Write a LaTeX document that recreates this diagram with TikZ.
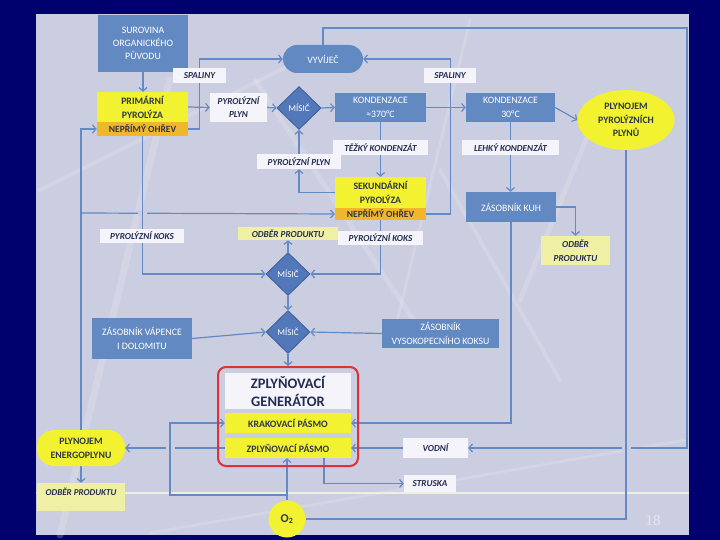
\documentclass[tikz,border=0pt]{standalone}
\usepackage{fontspec}
\setmainfont{Carlito}
\newfontfamily\numfont{Liberation Serif}
\usetikzlibrary{arrows.meta,shapes.geometric}
\definecolor{navy}{RGB}{0,0,110}
\definecolor{panel}{RGB}{203,205,224}
\definecolor{boxblue}{RGB}{99,137,195}
\definecolor{diam}{RGB}{82,120,185}
\definecolor{diamdark}{RGB}{60,92,155}
\definecolor{linec}{RGB}{100,138,198}
\definecolor{yel}{RGB}{242,242,48}
\definecolor{orng}{RGB}{240,182,44}
\definecolor{lyel}{RGB}{240,240,165}
\definecolor{lblw}{RGB}{244,244,250}
\definecolor{dtext}{RGB}{35,45,80}
\definecolor{ytext}{RGB}{45,55,70}
\definecolor{redf}{RGB}{220,50,60}
\definecolor{pagec}{RGB}{232,232,245}
\definecolor{streak}{RGB}{240,242,250}
\pgfdeclarelayer{back}
\pgfdeclarelayer{lines}
\pgfsetlayers{back,lines,main}
\tikzset{
  conn/.style={draw=linec, line width=1.2pt, -{Straight Barb[length=3.5pt,width=8pt]}},
  plainc/.style={draw=linec, line width=1.2pt},
  bbox/.style={fill=boxblue, text=white, align=center, inner sep=0pt,
    font=\fontsize{9.8}{13.3}\selectfont},
  ybox/.style={fill=yel, text=ytext, align=center, inner sep=0pt,
    font=\bfseries\fontsize{9.8}{14}\selectfont},
  obox/.style={fill=orng, text=ytext, align=center, inner sep=0pt,
    font=\bfseries\fontsize{9.5}{10}\selectfont},
  lbl/.style={fill=lblw, text=dtext, align=center, inner sep=0pt,
    font=\bfseries\itshape\fontsize{9.2}{13}\selectfont},
  lyb/.style={fill=lyel, text=dtext, align=center, inner sep=0pt,
    font=\bfseries\itshape\fontsize{9.2}{14}\selectfont},
  mix/.style={diamond, fill=diam, draw=diamdark, line width=0.8pt, text=white,
    minimum width=44pt, minimum height=43pt, inner sep=0pt,
    font=\fontsize{9}{10}\selectfont},
  gapfill/.style={fill=panel},
}
\begin{document}
\begin{tikzpicture}[x=1pt,y=-1pt]
\useasboundingbox (0,0) rectangle (720,540);
\begin{pgfonlayer}{back}
  \fill[navy] (0,0) rectangle (720,540);
  \fill[panel] (36,14) rectangle (689,535);
  \begin{scope}[draw=streak, opacity=0.22, line cap=round]
    \draw[line width=7pt] (60,535) -- (170,80);
    \draw[line width=4pt] (40,190) -- (300,60);
    \draw[line width=5pt] (255,80) -- (420,330);
    \draw[line width=4pt] (440,170) -- (560,380);
    \draw[line width=5pt] (590,130) -- (520,300);
    \draw[line width=3pt] (470,20) -- (395,330);
    \draw[line width=3pt] (150,533) -- (685,440);
  \end{scope}
  \draw[draw={rgb,255:red,236;green,240;blue,222}, line width=2pt] (36,493) -- (689,493);
\end{pgfonlayer}

% ---------- nodes ----------
\node[bbox, minimum width=90pt, minimum height=57pt] (sur) at (143,43.5) {SUROVINA\\ORGANICKÉHO\\PŮVODU};
\node[bbox, minimum width=80pt, minimum height=28pt, rounded corners=14pt] (vyv) at (323,59) {VYVÍJEČ};
\node[lbl, minimum width=53pt, minimum height=15pt] (spalL) at (199.5,75.5) {SPALINY};
\node[lbl, minimum width=52pt, minimum height=15pt] (spalR) at (450,75.5) {SPALINY};

\node[ybox, minimum width=91pt, minimum height=30pt] (prim) at (142.5,107) {PRIMÁRNÍ\\PYROLÝZA};
\node[obox, minimum width=91pt, minimum height=14pt] (ohr1) at (142.5,129) {NEPŘÍMÝ OHŘEV};
\node[lbl, minimum width=57pt, minimum height=29pt] (ppl1) at (238.5,107.5) {PYROLÝZNÍ\\PLYN};
\node[mix] (mis1) at (299,108) {MÍSIČ};
\node[bbox, minimum width=91pt, minimum height=29pt] (kon1) at (380.5,107.5) {KONDENZACE\\≈370°C};
\node[bbox, minimum width=89pt, minimum height=29pt] (kon2) at (510.5,107.5) {KONDENZACE\\30°C};
\node[ellipse, fill=yel, text=ytext, align=center, inner sep=0pt, minimum width=97pt, minimum height=60pt,
  font=\bfseries\fontsize{9.8}{13.5}\selectfont] (plp) at (626,120) {PLYNOJEM\\PYROLÝZNÍCH\\PLYNŮ};
\node[lbl, minimum width=95pt, minimum height=15pt] (tk) at (380.5,147.5) {TĚŽKÝ KONDENZÁT};
\node[lbl, minimum width=97pt, minimum height=15pt] (lk) at (510.5,147.5) {LEHKÝ KONDENZÁT};
\node[lbl, minimum width=84pt, minimum height=15pt] (ppl2) at (299,161.5) {PYROLÝZNÍ PLYN};

\node[ybox, minimum width=91pt, minimum height=31pt] (sek) at (380.5,192.5) {SEKUNDÁRNÍ\\PYROLÝZA};
\node[obox, minimum width=91pt, minimum height=12pt] (ohr2) at (380.5,214) {NEPŘÍMÝ OHŘEV};
\node[bbox, minimum width=90pt, minimum height=30pt] (kuh) at (511,207) {ZÁSOBNÍK KUH};
\node[lyb, minimum width=69pt, minimum height=29pt] (odb1) at (575.5,250.5) {ODBĚR\\PRODUKTU};

\node[lbl, minimum width=84pt, minimum height=14pt] (pk1) at (142,236) {PYROLÝZNÍ KOKS};
\node[lyb, minimum width=100pt, minimum height=13pt] (odb2) at (288,233.5) {ODBĚR PRODUKTU};
\node[lbl, minimum width=85pt, minimum height=14pt] (pk2) at (380.5,238) {PYROLÝZNÍ KOKS};
\node[mix] (mis2) at (288,274) {MÍSIČ};
\node[mix] (mis3) at (288,332) {MÍSIČ};
\node[bbox, minimum width=100pt, minimum height=41pt] (vap) at (142,338.5) {ZÁSOBNÍK VÁPENCE\\I DOLOMITU};
\node[bbox, minimum width=117pt, minimum height=29pt] (vys) at (440.5,333.5) {ZÁSOBNÍK\\VYSOKOPECNÍHO KOKSU};

\node[draw=redf, line width=2pt, rounded corners=8pt, minimum width=140pt, minimum height=99pt, inner sep=0pt] (gen) at (288,416.5) {};
\node[fill=lblw, text=dtext, align=center, inner sep=0pt, minimum width=126pt, minimum height=36pt,
  font=\bfseries\fontsize{14.5}{18}\selectfont] (gent) at (288,391) {ZPLYŇOVACÍ\\GENERÁTOR};
\node[ybox, minimum width=126pt, minimum height=20pt] (krak) at (288,423) {KRAKOVACÍ PÁSMO};
\node[ybox, minimum width=126pt, minimum height=20pt] (zpl) at (288,448) {ZPLYŇOVACÍ PÁSMO};

\node[ybox, minimum width=88pt, minimum height=36pt, rounded corners=17pt] (pen) at (81,448) {PLYNOJEM\\ENERGOPLYNU};
\node[lyb, minimum width=88pt, minimum height=28pt] (odb3) at (81,497) {};
\node[text=dtext, inner sep=0pt, font=\bfseries\itshape\fontsize{9}{10}\selectfont] (odb3t) at (81,492) {ODBĚR PRODUKTU};
\node[lbl, minimum width=65pt, minimum height=20pt] (vod) at (435.5,448) {VODNÍ};
\node[lbl, minimum width=52pt, minimum height=17pt] (str) at (430,483.5) {STRUSKA};
\node[circle, fill=yel, text=ytext, inner sep=0pt, minimum size=37pt,
  font=\bfseries\fontsize{12}{13}\selectfont] (o2) at (287,519) {O\textsubscript{2}};
\node[text=pagec, inner sep=0pt, font=\numfont\fontsize{15}{15}\selectfont] (pg) at (653,521) {18};

% ---------- helper coordinates ----------
\coordinate (lpA) at (687,28);
\coordinate (lpB) at (687,448);
\coordinate (br1) at (81,213);
\coordinate (br2) at (287,495);
\coordinate (c1) at (170,495);
\coordinate (c2) at (170,423);
\coordinate (zs) at (324,458);

% ---------- connectors ----------
\begin{pgfonlayer}{lines}
  \draw[conn] (sur.south) -- (sur.south |- prim.north);
  \draw[conn] (prim.east) -- (ppl1.west);
  \draw[conn] (ppl1.east) -- (mis1.west);
  \draw[conn] (mis1.east) -- (kon1.west);
  \draw[conn] (kon1.east) -- (kon2.west);
  \draw[conn] (kon2.east) -- (plp.west);
  \draw[conn] (ohr1.east) -- ++(11,0) |- (vyv.west);
  \draw[conn] (ohr2.east) -- ++(24,0) |- (vyv.east);
  \draw[conn] (kon1.south) -- (sek.north);
  \draw[conn] (kon2.south) -- (kon2.south |- kuh.north);
  \draw[conn] (sek.west) -| (ppl2.south);
  \draw[conn] (ppl2.north) -- (mis1.south);
  \draw[conn] (br1) -- (ohr2.west);
  \draw[conn] (pen.north) |- (ohr1.west);
  \draw[conn] (ohr1.south) |- (mis2.west);
  \draw[conn] (ohr2.south) |- (mis2.east);
  \draw[conn] (mis2.north) -- (odb2.south);
  \draw[conn] (mis2.south) -- (mis3.north);
  \draw[conn] (vap.east) -- (mis3.west);
  \draw[conn] (vys.west) -- (mis3.east);
  \draw[conn] (mis3.south) -- (gen.north);
  \draw[conn] (kuh.south -| 511,0) |- (krak.east);
  \draw[conn] (kuh.east) -| (odb1.north);
  \draw[plainc] (plp.south) |- (o2.east);
  \draw[conn] (vyv.north) |- (lpA) -- (lpB) -- (vod.east);
  \draw[conn] (vod.west) -- (zpl.east);
  \draw[conn] (zpl.west) -- (pen.east);
  \draw[conn] (o2.north) -- (o2.north |- zpl.south);
  \draw[conn] (br2) -- (c1) -- (c2) -- (krak.west);
  \draw[conn] (zs) |- (str.west);
  \draw[conn] (pen.south) -- (odb3.north);
  % line hops
  \fill[gapfill] (138,210) rectangle (147,216);
  \draw[plainc] (142.5,205) -- (142.5,221);
  \fill[gapfill] (165.5,445) rectangle (174.5,451);
  \draw[plainc] (170,440) -- (170,456);
  \fill[gapfill] (622,445) rectangle (631,451);
  \draw[plainc] (626,440) -- (626,456);
\end{pgfonlayer}
\end{tikzpicture}
\end{document}
